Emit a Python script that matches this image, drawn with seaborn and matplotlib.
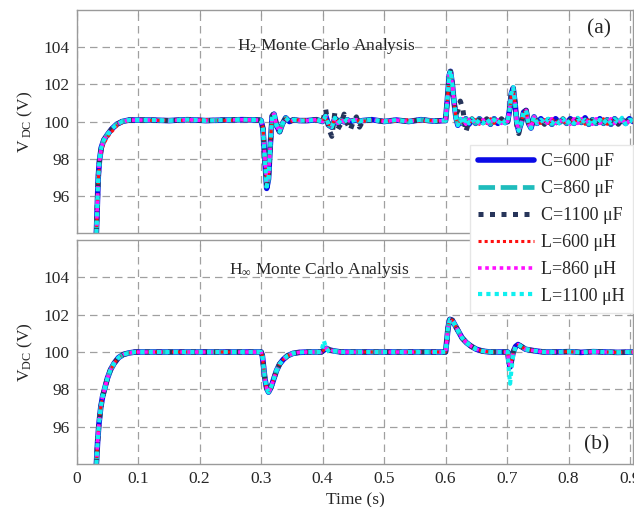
import matplotlib
matplotlib.use("Agg")
import matplotlib.pyplot as plt
import seaborn as sns
import pandas as pd

# ---------------- data ----------------
series_names = ["C=600 \u03bcF", "C=860 \u03bcF", "C=1100 \u03bcF",
                "L=600 \u03bcH", "L=860 \u03bcH", "L=1100 \u03bcH"]

# Panel (a): H2 Monte Carlo Analysis
ta = ([0.032, 0.033, 0.034, 0.035, 0.037, 0.040, 0.044, 0.050, 0.057, 0.065, 0.074, 0.085, 0.100]
      + [0.12, 0.15, 0.18, 0.21, 0.24, 0.27, 0.298]
      + [0.300, 0.303, 0.306, 0.309, 0.312, 0.315, 0.318, 0.321, 0.325, 0.330, 0.335, 0.340, 0.346, 0.353, 0.362]
      + [0.375, 0.39, 0.400, 0.405, 0.410, 0.415, 0.420, 0.425, 0.430, 0.435, 0.440, 0.445, 0.450, 0.455,
         0.460, 0.465, 0.48, 0.50, 0.52, 0.54, 0.56, 0.58, 0.597]
      + [0.600, 0.603, 0.606, 0.608, 0.611, 0.614, 0.617, 0.620]
      + [0.624, 0.628, 0.633, 0.638, 0.643, 0.649, 0.655, 0.661, 0.667, 0.673, 0.679, 0.685, 0.691, 0.697]
      + [0.701, 0.704, 0.707, 0.710, 0.713, 0.716, 0.719, 0.723, 0.727, 0.731, 0.735, 0.739, 0.744, 0.749]
      + [0.755, 0.761, 0.767, 0.773, 0.779, 0.785, 0.791, 0.797, 0.803, 0.809, 0.815, 0.821, 0.827,
         0.833, 0.839, 0.845, 0.851, 0.857, 0.863, 0.869, 0.875, 0.881, 0.887, 0.893, 0.899, 0.905])

va_c600 = ([94.0, 95.0, 96.0, 97.0, 97.9, 98.6, 99.0, 99.3, 99.6, 99.85, 100.0, 100.08, 100.08]
           + [100.08, 100.05, 100.1, 100.05, 100.08, 100.1, 100.08]
           + [100.05, 99.6, 98.0, 96.4, 96.9, 98.8, 100.3, 100.4, 99.8, 99.45, 99.9, 100.2, 100.0, 100.1, 100.05]
           + [100.05, 100.1, 100.0, 100.3, 99.8, 99.7, 100.2, 99.9, 100.08, 99.98, 100.1, 100.0, 100.05, 100.1,
              100.0, 100.05, 100.1, 100.0, 100.08, 100.0, 100.1, 100.02, 100.05]
           + [100.05, 101.2, 102.5, 102.7, 102.0, 101.0, 100.2, 99.8]
           + [100.1, 99.9, 100.15, 99.85, 100.1, 99.9, 100.15, 99.95, 100.1, 99.85, 100.15, 99.9, 100.1, 99.95]
           + [100.0, 100.6, 101.5, 101.8, 101.0, 99.9, 99.5, 99.9, 100.5, 100.6, 99.9, 99.65, 100.25, 99.9]
           + [100.15, 99.9, 100.1, 99.85, 100.15, 99.95, 100.1, 99.9, 100.15, 99.9, 100.1, 99.95, 100.2,
              99.85, 100.1, 99.9, 100.15, 99.9, 100.1, 99.85, 100.15, 99.95, 100.1, 99.9, 100.15, 100.0])

va_c1100 = ([94.0, 95.0, 96.0, 97.0, 97.9, 98.6, 99.0, 99.3, 99.6, 99.85, 100.0, 100.08, 100.08]
            + [100.08, 100.05, 100.1, 100.05, 100.08, 100.1, 100.08]
            + [100.05, 99.6, 98.0, 96.6, 97.0, 98.8, 100.3, 100.45, 99.8, 99.45, 99.9, 100.2, 100.0, 100.1, 100.05]
            + [100.05, 100.1, 100.0, 100.65, 99.6, 99.2, 100.5, 99.6, 99.9, 100.4, 99.9, 99.55, 100.0, 100.25,
               99.7, 100.0, 100.1, 100.0, 100.08, 100.0, 100.1, 100.02, 100.05]
            + [100.05, 101.2, 102.5, 102.7, 102.0, 101.0, 100.4, 100.6]
            + [101.1, 100.7, 99.45, 100.0, 100.15, 99.85, 100.1, 99.9, 100.15, 99.9, 100.1, 99.85, 100.15, 99.9]
            + [100.0, 100.6, 101.5, 101.8, 101.0, 99.8, 99.35, 99.9, 100.5, 100.6, 99.9, 99.65, 100.25, 99.9]
            + [100.1, 99.85, 100.15, 99.9, 100.1, 99.8, 100.15, 99.9, 100.1, 99.85, 100.15, 99.9, 100.1,
               99.8, 100.15, 99.9, 100.1, 99.85, 100.2, 99.9, 100.1, 99.85, 100.1, 99.95, 100.2, 100.05])

va_l600 = ([94.0, 94.8, 95.8, 96.8, 97.7, 98.4, 98.8, 99.15, 99.45, 99.75, 99.95, 100.05, 100.08]
           + [100.05, 100.08, 100.05, 100.1, 100.05, 100.08, 100.05]
           + [100.05, 99.7, 98.2, 96.8, 97.1, 98.9, 100.2, 100.35, 99.85, 99.5, 99.95, 100.15, 100.0, 100.05, 100.1]
           + [100.1, 100.05, 100.1, 100.2, 99.85, 99.8, 100.15, 99.95, 100.05, 100.0, 100.08, 100.02, 100.1, 100.0,
              100.05, 100.0, 100.08, 100.05, 100.0, 100.1, 100.0, 100.08, 100.0]
           + [100.0, 101.1, 102.4, 102.6, 101.9, 100.9, 100.2, 99.9]
           + [99.95, 100.1, 99.9, 100.15, 99.9, 100.1, 99.85, 100.1, 99.9, 100.15, 99.9, 100.1, 99.9, 100.1]
           + [100.0, 100.5, 101.4, 101.7, 100.9, 99.9, 99.55, 99.95, 100.45, 100.55, 99.95, 99.7, 100.2, 99.95]
           + [99.9, 100.1, 99.9, 100.15, 99.9, 100.1, 99.85, 100.1, 99.9, 100.15, 99.9, 100.1, 99.85,
              100.15, 99.9, 100.1, 99.9, 100.15, 99.85, 100.1, 99.95, 100.15, 99.9, 100.1, 99.9, 100.05])

va_l860 = ([94.0, 95.0, 96.0, 97.0, 97.9, 98.6, 99.0, 99.3, 99.6, 99.85, 100.0, 100.08, 100.08]
           + [100.08, 100.05, 100.1, 100.05, 100.08, 100.1, 100.08]
           + [100.05, 99.6, 98.1, 96.7, 97.0, 98.8, 100.3, 100.4, 99.8, 99.45, 99.9, 100.2, 100.0, 100.1, 100.05]
           + [100.05, 100.1, 100.0, 100.3, 99.8, 99.7, 100.2, 99.9, 100.08, 99.98, 100.1, 100.0, 100.05, 100.1,
              100.0, 100.05, 100.1, 100.0, 100.08, 100.0, 100.1, 100.02, 100.05]
           + [100.05, 101.2, 102.5, 102.7, 102.0, 101.0, 100.2, 99.8]
           + [99.9, 100.15, 99.85, 100.1, 99.9, 100.15, 99.9, 100.1, 99.85, 100.15, 99.9, 100.1, 99.9, 100.1]
           + [100.0, 100.6, 101.5, 101.8, 101.0, 99.9, 99.5, 99.9, 100.5, 100.6, 99.9, 99.65, 100.25, 99.9]
           + [99.9, 100.15, 99.85, 100.15, 99.9, 100.1, 99.9, 100.15, 99.85, 100.15, 99.9, 100.15, 99.9,
              100.1, 99.85, 100.15, 99.9, 100.1, 99.9, 100.15, 99.9, 100.1, 99.85, 100.15, 99.9, 100.1])

va_l1100 = ([94.0, 95.0, 96.0, 97.0, 97.9, 98.6, 99.0, 99.3, 99.6, 99.85, 100.0, 100.08, 100.08]
            + [100.08, 100.05, 100.1, 100.05, 100.08, 100.1, 100.08]
            + [100.05, 99.6, 98.0, 96.5, 97.0, 98.8, 100.3, 100.4, 99.8, 99.45, 99.9, 100.2, 100.0, 100.1, 100.05]
            + [100.05, 100.1, 100.0, 100.3, 99.8, 99.7, 100.2, 99.9, 100.08, 99.98, 100.1, 100.0, 100.05, 100.1,
               100.0, 100.05, 100.1, 100.0, 100.08, 100.0, 100.1, 100.02, 100.05]
            + [100.05, 101.2, 102.5, 102.75, 102.0, 101.0, 100.2, 99.8]
            + [100.15, 99.85, 100.2, 99.9, 100.15, 99.85, 100.1, 99.9, 100.15, 99.9, 100.1, 99.85, 100.15, 99.9]
            + [100.0, 100.6, 101.5, 101.85, 101.0, 99.9, 99.5, 99.9, 100.5, 100.6, 99.9, 99.65, 100.25, 99.9]
            + [100.1, 99.9, 100.15, 99.9, 100.1, 99.9, 100.15, 99.85, 100.1, 99.9, 100.2, 99.9, 100.1,
               99.9, 100.15, 99.85, 100.1, 99.9, 100.15, 99.9, 100.1, 99.9, 100.2, 99.85, 100.1, 100.0])

# Panel (b): H-infinity Monte Carlo Analysis
tb = ([0.032, 0.034, 0.036, 0.039, 0.042, 0.046, 0.050, 0.055, 0.061, 0.068, 0.076, 0.085, 0.095]
      + [0.12, 0.15, 0.18, 0.21, 0.24, 0.27, 0.298]
      + [0.300, 0.302, 0.304, 0.306, 0.309, 0.312, 0.316, 0.320, 0.325, 0.330, 0.336, 0.343, 0.352, 0.362, 0.375]
      + [0.39, 0.398, 0.402, 0.406, 0.412, 0.420, 0.43, 0.45, 0.48, 0.51, 0.54, 0.57, 0.598]
      + [0.600, 0.602, 0.604, 0.607, 0.611, 0.616, 0.621, 0.627, 0.634, 0.642, 0.650, 0.660, 0.672, 0.685, 0.698]
      + [0.701, 0.703, 0.705, 0.707, 0.710, 0.714, 0.718, 0.723, 0.730, 0.738, 0.748, 0.760]
      + [0.78, 0.80, 0.82, 0.84, 0.86, 0.88, 0.905])

vb_base = ([94.0, 95.2, 96.1, 97.0, 97.6, 98.1, 98.6, 99.05, 99.4, 99.7, 99.87, 99.95, 100.0]
           + [100.0, 100.0, 100.0, 100.0, 100.0, 100.0, 100.0]
           + [100.0, 99.8, 99.2, 98.6, 98.05, 97.85, 98.1, 98.5, 99.0, 99.35, 99.6, 99.8, 99.93, 99.98, 100.0]
           + [100.0, 100.0, 100.1, 100.2, 100.1, 100.05, 100.0, 100.0, 100.0, 100.0, 100.0, 100.0, 100.0]
           + [100.0, 100.6, 101.3, 101.75, 101.7, 101.4, 101.1, 100.75, 100.5, 100.3, 100.15, 100.05, 100.0,
              100.0, 100.0]
           + [100.0, 99.5, 99.2, 99.5, 100.0, 100.3, 100.4, 100.3, 100.15, 100.1, 100.05, 100.0]
           + [100.0, 100.02, 99.98, 100.02, 100.0, 99.98, 100.0])

vb_l1100 = ([94.0, 95.2, 96.1, 97.0, 97.6, 98.1, 98.6, 99.05, 99.4, 99.7, 99.87, 99.95, 100.0]
            + [100.0, 100.0, 100.0, 100.0, 100.0, 100.0, 100.0]
            + [100.0, 99.8, 99.2, 98.6, 98.05, 97.85, 98.1, 98.5, 99.0, 99.35, 99.6, 99.8, 99.93, 99.98, 100.0]
            + [100.0, 100.0, 100.6, 100.2, 99.95, 100.05, 100.0, 100.0, 100.0, 100.0, 100.0, 100.0, 100.0]
            + [100.0, 100.6, 101.3, 101.75, 101.7, 101.4, 101.1, 100.75, 100.5, 100.3, 100.15, 100.05, 100.0,
               100.0, 100.0]
            + [100.0, 99.0, 98.3, 99.0, 99.8, 100.3, 100.4, 100.3, 100.15, 100.1, 100.05, 100.0]
            + [100.0, 100.02, 99.98, 100.02, 100.0, 99.98, 100.0])

y_ticks = [96, 98, 100, 102, 104]
x_ticks = [0, 0.1, 0.2, 0.3, 0.4, 0.5, 0.6, 0.7, 0.8, 0.9]
x_tick_labels = ["0", "0.1", "0.2", "0.3", "0.4", "0.5", "0.6", "0.7", "0.8", "0.9"]

# ---------------- styling ----------------
sns.set_style("white")
plt.rcParams["font.family"] = ["Liberation Serif", "DejaVu Serif"]
plt.rcParams["mathtext.fontset"] = "custom"
plt.rcParams["mathtext.rm"] = "Liberation Serif"
plt.rcParams["mathtext.it"] = "Liberation Serif:italic"
plt.rcParams["mathtext.sf"] = "Liberation Serif"

styles = [
    dict(color="#0a0ae6", lw=4.0, dashes=None),
    dict(color="#1fbcbc", lw=3.4, dashes=(3.5, 1.2)),
    dict(color="#27355a", lw=3.6, dashes=(1.0, 1.3)),
    dict(color="#ff1010", lw=2.2, dashes=(1.0, 1.0)),
    dict(color="#ff10ff", lw=2.6, dashes=(1.0, 1.0)),
    dict(color="#10f0f0", lw=3.0, dashes=(1.0, 1.0)),
]

fig = plt.figure(figsize=(6.34, 5.07), dpi=100)
ax1 = fig.add_axes([0.121, 0.5404, 0.8775, 0.4398])
ax2 = fig.add_axes([0.121, 0.0848, 0.8775, 0.4418])

panel_a = [va_c600, va_c600, va_c1100, va_l600, va_l860, va_l1100]
panel_b = [vb_base, vb_base, vb_base, vb_base, vb_base, vb_l1100]

handles = []
for ax, tt, vals in [(ax1, ta, panel_a), (ax2, tb, panel_b)]:
    for name, v, st in zip(series_names, vals, styles):
        df = pd.DataFrame({"t": tt, "v": v})
        sns.lineplot(data=df, x="t", y="v", ax=ax, color=st["color"], lw=st["lw"],
                     estimator=None, sort=False, legend=False)
        ln = ax.get_lines()[-1]
        if st["dashes"] is not None:
            ln.set_dashes(st["dashes"])
        ln.set_label(name)
        if ax is ax1:
            handles.append(ln)

grid_col = "#a0a0a0"
for ax in (ax1, ax2):
    ax.set_xlim(0, 0.905)
    ax.set_ylim(94, 106)
    ax.set_yticks(y_ticks)
    ax.set_xticks(x_ticks)
    ax.grid(True, color=grid_col, lw=0.9, ls=(0, (6, 4)))
    for s in ax.spines.values():
        s.set_color("#9a9a9a")
        s.set_linewidth(1.0)
    ax.tick_params(direction="in", length=4, color="#9a9a9a", top=True, right=True,
                   labelsize=12.5, pad=5)

ax1.set_xticklabels([])
ax1.set_xlabel("")
ax2.set_xticklabels(x_tick_labels)
ax2.set_xlabel("Time (s)", fontsize=12.5, labelpad=4)
ax1.set_ylabel(r"V$_{\;\mathrm{DC}}$ (V)", fontsize=12.5, labelpad=6)
ax2.set_ylabel(r"V$_{\mathrm{DC}}$ (V)", fontsize=12.5, labelpad=6)

ax1.text(0.405, 104.05, r"H$_2$ Monte Carlo Analysis", ha="center", va="center", fontsize=12.5)
ax2.text(0.395, 104.4, r"H$_\infty$ Monte Carlo Analysis", ha="center", va="center", fontsize=12.5)
ax1.text(0.85, 105.0, "(a)", ha="center", va="center", fontsize=15.5)
ax2.text(0.845, 95.0, "(b)", ha="center", va="center", fontsize=15.5)

leg = fig.legend(handles=handles, loc="upper left", bbox_to_anchor=(0.741, 0.714),
                 borderaxespad=0.0,
                 fontsize=13, handlelength=3.1, labelspacing=0.55, handletextpad=0.4,
                 borderpad=0.45, frameon=True, fancybox=False, framealpha=1.0,
                 edgecolor="#e6e6e6", facecolor="white")

fig.savefig("out.png", dpi=100)
